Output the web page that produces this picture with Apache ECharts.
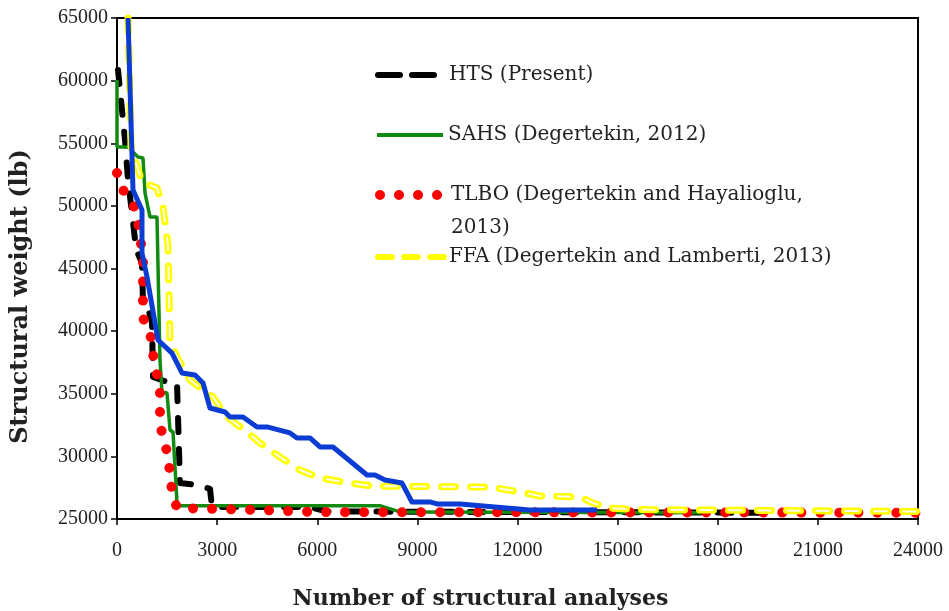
<!DOCTYPE html>
<html><head><meta charset="utf-8">
<script src="https://cdn.jsdelivr.net/npm/echarts@6/dist/echarts.min.js"></script>
<style>html,body{margin:0;padding:0;background:#fff}#c{width:949px;height:611px}</style>
</head><body><div id="c"></div>
<script>
const xTitle = 'Number of structural analyses';
const yTitle = 'Structural weight (lb)';
const nameHTS = 'HTS (Present)';
const nameSAHS = 'SAHS (Degertekin, 2012)';
const nameTLBO = 'TLBO (Degertekin and Hayalioglu, 2013)';
const nameFFA = 'FFA (Degertekin and Lamberti, 2013)';
const nameBlue = 'Other';

const htsData = [[30,60850],[150,57650],[240,55260],[330,52070],[450,49430],[540,47280],[540,46720],[749,45440],[779,42250],[929,41850],[1049,40650],[1079,36340],[1498,35940],[1798,35860],[1887,27870],[2397,27710],[2786,27400],[2846,25950],[5800,25950],[6300,25600],[19600,25500]];
const sahsData = [[0,60050],[0,54700],[330,54700],[629,53900],[779,53820],[839,51030],[989,49110],[1198,49110],[1288,37700],[1348,35140],[1498,35060],[1588,32110],[1678,31950],[1798,26280],[1828,26050],[7900,26050],[8500,25550],[17500,25500]];
const tlboData = [[0,52630],[180,51270],[479,50230],[629,48710],[779,45840],[779,41050],[989,39930],[1138,37060],[1288,35700],[1288,32670],[1378,31470],[1528,30110],[1648,27160],[1798,25880],[3000,25800],[4500,25700],[6000,25550],[24000,25500]];
const ffaData = [[330,65000],[389,58450],[419,54700],[749,51910],[1198,51430],[1378,49910],[1528,46880],[1588,39290],[1798,37930],[2187,36100],[2876,34740],[3295,33140],[3895,31950],[4284,31070],[4883,29950],[5483,28910],[6082,28270],[6981,27870],[7670,27630],[11175,27550],[12074,27160],[12673,26840],[13872,26760],[14261,26280],[14681,25880],[15669,25750],[24000,25600]];
const blueData = [[330,65000],[479,51270],[749,49670],[749,46240],[899,44320],[1228,39290],[1648,38250],[1947,36660],[2337,36500],[2577,35860],[2786,33860],[3236,33540],[3385,33140],[3775,33140],[4194,32350],[4494,32350],[5183,31870],[5393,31470],[5782,31470],[6082,30750],[6471,30750],[7490,28510],[7730,28510],[8029,28110],[8539,27870],[8838,26360],[9377,26360],[9587,26200],[10276,26200],[12373,25720],[14381,25720]];

const serif = 'DejaVu Serif';
const chart = echarts.init(document.getElementById('c'));
const legendBase = {
  orient: 'vertical', left: 375, padding: 0, itemWidth: 66, itemHeight: 14,
  selectedMode: false,
  itemStyle: {opacity: 0, borderWidth: 0},
  textStyle: {fontFamily: serif, fontSize: 20, color: '#222', lineHeight: 24}
};
chart.setOption({
  animation: false,
  backgroundColor: '#fff',
  grid: {left: 117, right: 31, top: 18, bottom: 92, show: true, borderColor: '#000', borderWidth: 2,
    backgroundColor: 'transparent', containLabel: false, outerBoundsMode: 'none'},
  xAxis: {
    type: 'value', min: 0, max: 24000, interval: 3000,
    name: xTitle, nameLocation: 'middle', nameGap: 69,
    nameTextStyle: {fontFamily: serif, fontWeight: 'bold', fontSize: 22, color: '#222', padding: [0, 74, 0, 0]},
    axisLine: {lineStyle: {color: '#000', width: 2}},
    axisTick: {show: true, length: 6, lineStyle: {color: '#000', width: 1.5}},
    axisLabel: {fontFamily: 'Liberation Serif', fontSize: 20, color: '#222', margin: 22,
      formatter: function (v) { return String(v); }},
    splitLine: {show: false}
  },
  yAxis: {
    type: 'value', min: 25000, max: 65000, interval: 5000,
    name: yTitle, nameLocation: 'middle', nameGap: 84,
    nameTextStyle: {fontFamily: serif, fontWeight: 'bold', fontSize: 24, color: '#222', padding: [0, 56, 0, 0]},
    axisLine: {show: true, lineStyle: {color: '#000', width: 2}},
    axisTick: {show: true, length: 6, lineStyle: {color: '#000', width: 1.5}},
    axisLabel: {fontFamily: 'Liberation Serif', fontSize: 20, color: '#222', margin: 9,
      formatter: function (v) { return String(v); }},
    splitLine: {show: false}
  },
  legend: [
    Object.assign({}, legendBase, {top: 63, data: [nameHTS], lineStyle: {width: 6, type: [22, 12], cap: 'round'}}),
    Object.assign({}, legendBase, {top: 123, data: [nameSAHS], lineStyle: {width: 4}}),
    Object.assign({}, legendBase, {top: 145.5, data: [nameTLBO], lineStyle: {width: 10},
      textStyle: Object.assign({}, legendBase.textStyle, {lineHeight: 33}),
      formatter: function () { return '\nTLBO (Degertekin and Hayalioglu,\n2013)'; }}),
    Object.assign({}, legendBase, {top: 245, data: [nameFFA], lineStyle: {width: 6, type: [14, 12], cap: 'round'}})
  ],
  series: [
    {name: nameHTS, type: 'line', data: htsData, symbol: 'none', z: 2,
      lineStyle: {color: '#000', width: 6, type: [14, 17], cap: 'round', join: 'round'}, itemStyle: {color: '#000'}},
    {name: nameSAHS, type: 'line', data: sahsData, symbol: 'none', z: 3,
      lineStyle: {color: '#118a11', width: 3.5}, itemStyle: {color: '#118a11'}},
    {name: nameTLBO, type: 'line', data: tlboData, symbol: 'none', z: 4,
      lineStyle: {color: '#ff0000', width: 10, type: [0.01, 19], cap: 'round'}, itemStyle: {color: '#ff0000'}},
    {name: nameFFA, type: 'line', data: ffaData, symbol: 'none', z: 5,
      lineStyle: {color: '#ffff00', width: 7, type: [14, 15], cap: 'round', join: 'round'}, itemStyle: {color: '#ffff00'}},
    {name: nameFFA + ' inner', type: 'line', data: ffaData, symbol: 'none', z: 6,
      lineStyle: {color: '#fffde8', width: 2, type: [14, 15], cap: 'butt'}, itemStyle: {color: '#fffde8'}},
    {name: nameBlue, type: 'line', data: blueData, symbol: 'none', z: 7,
      lineStyle: {color: '#0b3dd4', width: 5, join: 'round'}, itemStyle: {color: '#0b3dd4'}}
  ]
});
</script>
</body></html>
